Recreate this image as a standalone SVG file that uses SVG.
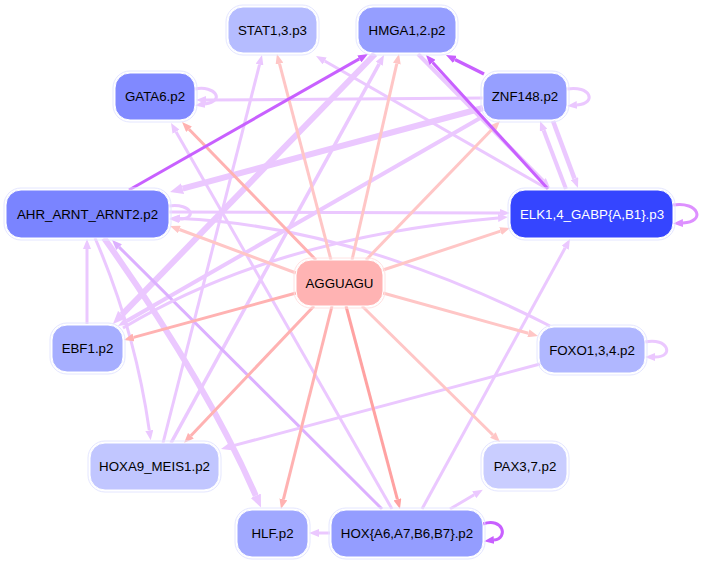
<svg xmlns="http://www.w3.org/2000/svg" width="703" height="563" viewBox="0 0 703 563">
<style>
.e{fill:none;stroke-width:3}
.lav{stroke:#ebc8ff}
.lavd{stroke:#dcb0ff}
.elk{stroke:#dd90ff}
.pur{stroke:#c860ff}
.pk1{stroke:#ffc6c6}
.pk2{stroke:#ffb2b2}
.pk3{stroke:#ffa2a2}
.box{stroke:#ffffff;stroke-width:1}
.ring{fill:none;stroke:#e4e6ff;stroke-width:1}
text{font-family:"Liberation Sans",Arial,Helvetica,sans-serif;font-size:13.3px;text-anchor:middle;fill:#000}
</style>
<defs>
<marker id="aLav" viewBox="0 0 10 8" refX="0" refY="4" markerWidth="10" markerHeight="8" markerUnits="userSpaceOnUse" orient="auto"><path d="M0,0L10,4L0,8z" fill="#ebc8ff"/></marker>
<marker id="aLavB" viewBox="0 0 13 11" refX="0" refY="5.5" markerWidth="13" markerHeight="11" markerUnits="userSpaceOnUse" orient="auto"><path d="M0,0L13,5.5L0,11z" fill="#ebc8ff"/></marker>
<marker id="aLavd" viewBox="0 0 10 8" refX="0" refY="4" markerWidth="10" markerHeight="8" markerUnits="userSpaceOnUse" orient="auto"><path d="M0,0L10,4L0,8z" fill="#dcb0ff"/></marker>
<marker id="aElk" viewBox="0 0 10 8" refX="0" refY="4" markerWidth="10" markerHeight="8" markerUnits="userSpaceOnUse" orient="auto"><path d="M0,0L10,4L0,8z" fill="#dd90ff"/></marker>
<marker id="aPur" viewBox="0 0 10 8" refX="0" refY="4" markerWidth="10" markerHeight="8" markerUnits="userSpaceOnUse" orient="auto"><path d="M0,0L10,4L0,8z" fill="#c860ff"/></marker>
<marker id="aPk1" viewBox="0 0 10 8" refX="0" refY="4" markerWidth="10" markerHeight="8" markerUnits="userSpaceOnUse" orient="auto"><path d="M0,0L10,4L0,8z" fill="#ffc6c6"/></marker>
<marker id="aPk2" viewBox="0 0 10 8" refX="0" refY="4" markerWidth="10" markerHeight="8" markerUnits="userSpaceOnUse" orient="auto"><path d="M0,0L10,4L0,8z" fill="#ffb2b2"/></marker>
<marker id="aPk3" viewBox="0 0 10 8" refX="0" refY="4" markerWidth="10" markerHeight="8" markerUnits="userSpaceOnUse" orient="auto"><path d="M0,0L10,4L0,8z" fill="#ffa2a2"/></marker>
</defs>
<rect width="703" height="563" fill="#ffffff"/>
<g id="edges">
<!-- lavender -->
<path class="e lav" d="M483,98L206,100" marker-end="url(#aLav)"/>
<path class="e lav" d="M195,89C215,85 226,101 205,104" marker-end="url(#aLav)"/>
<path class="e lav" d="M567,89C590,85 598,103 577,105" marker-end="url(#aLav)"/>
<path class="e lav" d="M169,206C192,203 198,219 179,219" marker-end="url(#aLav)"/>
<path class="e elk" d="M673,205C699,201 706,222 683,223" marker-end="url(#aElk)"/>
<path class="e lav" d="M645,342C668,337 675,357 655,357" marker-end="url(#aLav)"/>
<path class="e lav" d="M546,188L324.7,61" marker-end="url(#aLav)"/>
<path class="e lav" style="stroke-width:4" d="M418,54L543,180.9" marker-end="url(#aLav)"/>
<path class="e lav" style="stroke-width:4" d="M566,189L543.6,130.3" marker-end="url(#aLav)"/>
<path class="e lav" style="stroke-width:4.5" d="M553,121L574.5,178.6" marker-end="url(#aLav)"/>
<path class="e lav" style="stroke-width:6" d="M483,108L182.6,188.6" marker-end="url(#aLavB)"/>
<path class="e lav" style="stroke-width:4" d="M482,117L126.7,321" marker-end="url(#aLav)"/>
<path class="e lav" style="stroke-width:6" d="M375,54L122,314.7" marker-end="url(#aLavB)"/>
<path class="e lav" d="M163,443L259.5,64.7" marker-end="url(#aLav)"/>
<path class="e lav" style="stroke-width:3.5" d="M171,443L379.2,63.8" marker-end="url(#aLav)"/>
<path class="e lav" d="M392,509L176,131.7" marker-end="url(#aLav)"/>
<path class="e lavd" d="M382,509L119.1,247.1" marker-end="url(#aLavd)"/>
<path class="e lav" style="stroke-width:6" d="M104,238Q205,380 255.8,495.7" marker-end="url(#aLavB)"/>
<path class="e lav" d="M95,238Q135,330 149.3,430.4" marker-end="url(#aLav)"/>
<path class="e lav" d="M87,324L87,249" marker-end="url(#aLav)"/>
<path class="e lav" d="M123,328C220,270 340,232 498,218" marker-end="url(#aLav)"/>
<path class="e lav" d="M550,326C470,285 330,225 180,218.5" marker-end="url(#aLav)"/>
<path class="e lav" d="M540,364L230.7,446.4" marker-end="url(#aLav)"/>
<path class="e lav" d="M330,533L319,533" marker-end="url(#aLav)"/>
<path class="e lav" d="M450,509L474.2,494.8" marker-end="url(#aLav)"/>
<path class="e lav" d="M422,509L565.2,247.8" marker-end="url(#aLav)"/>
<path class="e lav" d="M169,212L500,213" marker-end="url(#aLav)"/>
<!-- pink from AGGUAGU -->
<path class="e pk2" d="M316,260L189,129.2" marker-end="url(#aPk2)"/>
<path class="e pk1" d="M331,260L279.5,63.7" marker-end="url(#aPk1)"/>
<path class="e pk1" d="M352,260L396.8,63.7" marker-end="url(#aPk1)"/>
<path class="e pk1" d="M366,260L493.1,128.2" marker-end="url(#aPk1)"/>
<path class="e pk1" d="M296,273L179.4,229.5" marker-end="url(#aPk1)"/>
<path class="e pk1" d="M383,270L500.5,231.1" marker-end="url(#aPk1)"/>
<path class="e pk2" d="M296,293L133.6,337.4" marker-end="url(#aPk2)"/>
<path class="e pk1" d="M383,293L528.4,333.3" marker-end="url(#aPk1)"/>
<path class="e pk2" d="M314,306L190.9,435.7" marker-end="url(#aPk2)"/>
<path class="e pk2" d="M332,306L283.4,499.3" marker-end="url(#aPk2)"/>
<path class="e pk3" d="M346,306L397.4,499.3" marker-end="url(#aPk3)"/>
<path class="e pk1" d="M362,306L492.9,435" marker-end="url(#aPk1)"/>
<!-- purple -->
<path class="e pur" d="M129,190L359.3,58.9" marker-end="url(#aPur)"/>
<path class="e pur" style="stroke-width:3.5" d="M484,74L454.9,59.5" marker-end="url(#aPur)"/>
<path class="e pur" d="M548,189L432.7,62.4" marker-end="url(#aPur)"/>
<path class="e pur" d="M483,524C503,517 509,538 494,540" marker-end="url(#aPur)"/>
</g>
<g id="node-STAT1_3_p3"><rect class="ring" x="226" y="5" width="93" height="50" rx="17"/><rect class="box" x="228" y="7" width="89" height="46" rx="15" fill="#b5bcff"/><text x="272.5" y="34.7">STAT1,3.p3</text></g>
<g id="node-HMGA1_2_p2"><rect class="ring" x="356" y="5" width="102" height="50" rx="17"/><rect class="box" x="358" y="7" width="98" height="46" rx="15" fill="#959eff"/><text x="407" y="34.7">HMGA1,2.p2</text></g>
<g id="node-GATA6_p2"><rect class="ring" x="113" y="71" width="84" height="51" rx="17"/><rect class="box" x="115" y="73" width="80" height="47" rx="15" fill="#8089ff"/><text x="155" y="100.7">GATA6.p2</text></g>
<g id="node-ZNF148_p2"><rect class="ring" x="481" y="71" width="88" height="51" rx="17"/><rect class="box" x="483" y="73" width="84" height="47" rx="15" fill="#969fff"/><text x="525" y="100.7">ZNF148.p2</text></g>
<g id="node-AHR_ARNT_ARNT2_p2"><rect class="ring" x="4" y="188" width="167" height="52" rx="17"/><rect class="box" x="6" y="190" width="163" height="48" rx="15" fill="#7a84ff"/><text x="87.5" y="218.7">AHR_ARNT_ARNT2.p2</text></g>
<g id="node-ELK1_4_GABP_p3"><rect class="ring" x="508" y="188" width="167" height="52" rx="17"/><rect class="box" x="510" y="190" width="163" height="48" rx="15" fill="#3545ff"/><text x="592" y="218.7" style="fill:#ffffff">ELK1,4_GABP{A,B1}.p3</text></g>
<g id="node-AGGUAGU"><rect class="ring" x="294" y="258" width="91" height="50" rx="17" style="stroke:#ffe2e2"/><rect class="box" x="296" y="260" width="87" height="46" rx="15" fill="#ffb3b3"/><text x="339.5" y="287.7">AGGUAGU</text></g>
<g id="node-EBF1_p2"><rect class="ring" x="50" y="323" width="75" height="51" rx="17"/><rect class="box" x="52" y="325" width="71" height="47" rx="15" fill="#a6aeff"/><text x="87.5" y="352.7">EBF1.p2</text></g>
<g id="node-FOXO1_3_4_p2"><rect class="ring" x="537" y="325" width="110" height="50" rx="17"/><rect class="box" x="539" y="327" width="106" height="46" rx="15" fill="#b0b7ff"/><text x="592" y="354.7">FOXO1,3,4.p2</text></g>
<g id="node-HOXA9_MEIS1_p2"><rect class="ring" x="88" y="441" width="133" height="51" rx="17"/><rect class="box" x="90" y="443" width="129" height="47" rx="15" fill="#c1c6ff"/><text x="154.5" y="470.7">HOXA9_MEIS1.p2</text></g>
<g id="node-PAX3_7_p2"><rect class="ring" x="481" y="441" width="88" height="50" rx="17"/><rect class="box" x="483" y="443" width="84" height="46" rx="15" fill="#c9cdff"/><text x="525" y="470.7">PAX3,7.p2</text></g>
<g id="node-HLF_p2"><rect class="ring" x="235" y="508" width="75" height="51" rx="17"/><rect class="box" x="237" y="510" width="71" height="47" rx="15" fill="#a0a8ff"/><text x="272.5" y="537.7">HLF.p2</text></g>
<g id="node-HOX_p2"><rect class="ring" x="329" y="508" width="156" height="51" rx="17"/><rect class="box" x="331" y="510" width="152" height="47" rx="15" fill="#949dff"/><text x="407" y="537.7">HOX{A6,A7,B6,B7}.p2</text></g>
</svg>
